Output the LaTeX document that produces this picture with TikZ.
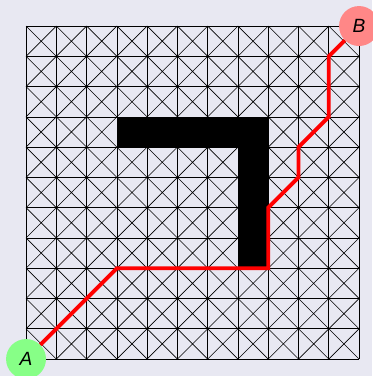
\documentclass[tikz,border=0pt]{standalone}
\usepackage{fontspec}
\setsansfont{Liberation Sans}
\usetikzlibrary{arrows.meta}
\definecolor{bgcol}{RGB}{232,232,242}
\tikzset{
  gridline/.style={draw=black, line width=0.6pt},
  wall/.style={fill=black},
  route/.style={draw=red, line width=3.6pt, line join=miter},
  endpt/.style={circle, minimum size=1.32cm, inner sep=0pt, font=\fontsize{18}{18}\selectfont\sffamily\itshape},
  kstart/.style={endpt, fill=green!47},
  kgoal/.style={endpt, fill=red!47},
}

\begin{document}
\begin{tikzpicture}
    \useasboundingbox[fill=bgcol] (-0.86,-0.56) rectangle (11.43,11.86);
    \draw[gridline] (0,0) grid (11,11);
    \foreach \i in {0,...,10}
      \foreach \j in {0,...,10}
        \draw[gridline] (\i,\j) -- (\i+1,\j+1) (\i+1,\j) -- (\i,\j+1);
    \fill[wall] (3,7) rectangle (8,8);
    \fill[wall] (7,3) rectangle (8,7);
    \node[kstart] (A) at (0,0) {A};
    \node[kgoal] (B) at (11,11) {B};
    \draw[route] (A) -- (3,3) -- (8,3) -- (8,5) -- (9,6) -- (9,7) -- (10,8) -- (10,10) -- (B);
  \end{tikzpicture}
\end{document}
